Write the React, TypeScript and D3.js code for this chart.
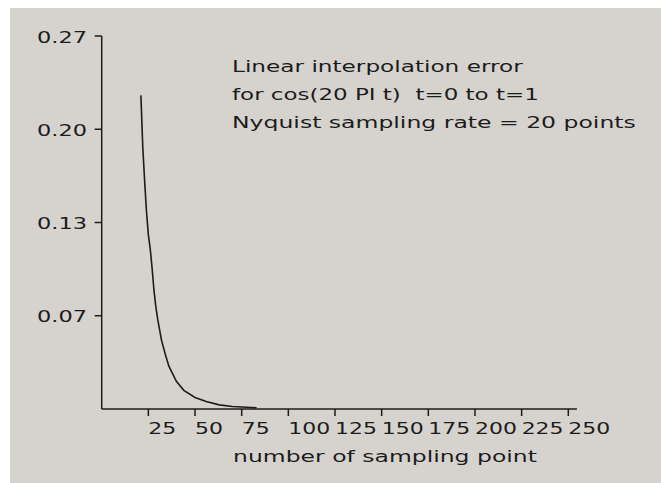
import { useLayoutEffect, useRef, useState } from "react";
import * as d3 from "d3";

// sample counts and the interpolation error
const samplePoints = [21, 22, 23, 24, 25, 26, 27, 28, 29, 30, 32, 34, 36, 40, 44, 50, 56, 63, 70, 83];
const errorValues = [0.227, 0.19, 0.165, 0.143, 0.126, 0.116, 0.102, 0.086, 0.074, 0.065, 0.05, 0.04, 0.031, 0.02, 0.0135, 0.0083, 0.0054, 0.003, 0.0018, 0.0009];

const yTickValues = [0.27, 0.2025, 0.135, 0.0675];
const yTickLabels = ["0.27", "0.20", "0.13", "0.07"];
const xTickValues = [25, 50, 75, 100, 125, 150, 175, 200, 225, 250];
const xTickLabels = ["25", "50", "75", "100", "125", "150", "175", "200", "225", "250"];

const noteLines = [
  "Linear interpolation error",
  "for cos(20 PI t)  t=0 to t=1",
  "Nyquist sampling rate = 20 points",
];
const xTitle = "number of sampling point";

const W = 661;
const H = 483;
const ink = "#1c1c1c";
const font = "'DejaVu Sans', sans-serif";

// text stretched horizontally to a target width (the original uses a wide bitmap font)
const WideText = ({ x, y, width, anchor = "start", children }) => {
  const ref = useRef<SVGTextElement>(null);
  const [sx, setSx] = useState(1.25);
  useLayoutEffect(() => {
    if (!ref.current) return;
    const natural = ref.current.getComputedTextLength();
    if (natural > 0) setSx(width / natural);
  }, [width, children]);
  return (
    <text
      ref={ref}
      transform={`translate(${x},${y}) scale(${sx},1)`}
      textAnchor={anchor}
      fontSize={16}
      fill={ink}
      style={{ whiteSpace: "pre" }}
    >
      {children}
    </text>
  );
};

const App = () => {
  const x = d3.scaleLinear().domain([0, 250]).range([101.7, 568.3]);
  const y = d3.scaleLinear().domain([0, 0.27]).range([409, 36]);

  const line = d3
    .line<number>()
    .x((d) => x(d))
    .y((d, i) => y(errorValues[i]));

  const x0 = x(0);
  const xEnd = x(254.6);
  const yBase = y(0);

  const noteWidths = [291, 307, 404];

  return (
    <svg
      width={W}
      height={H}
      style={{ position: "absolute", left: 0, top: 0 }}
      fontFamily={font}
    >
      <rect x={0} y={0} width={W} height={H} fill="#ffffff" />
      <rect x={10} y={8} width={W - 10} height={H - 8} fill="#d6d3ce" />

      {/* axes */}
      <line x1={x0} x2={x0} y1={y(0.27)} y2={yBase} stroke={ink} strokeWidth={1.5} />
      <line x1={x0} x2={xEnd} y1={yBase} y2={yBase} stroke={ink} strokeWidth={1.5} />

      {yTickValues.map((v, i) => (
        <g key={"y" + i}>
          <line x1={x0 - 7} x2={x0} y1={y(v)} y2={y(v)} stroke={ink} strokeWidth={1.5} />
          <WideText x={87} y={y(v) + 6.5} width={50} anchor="end">
            {yTickLabels[i]}
          </WideText>
        </g>
      ))}

      {xTickValues.map((v, i) => (
        <g key={"x" + i}>
          <line x1={x(v)} x2={x(v)} y1={yBase} y2={yBase + 7} stroke={ink} strokeWidth={1.5} />
          <WideText x={x(v)} y={434} width={xTickLabels[i].length === 2 ? 28 : 42}>
            {xTickLabels[i]}
          </WideText>
        </g>
      ))}

      <WideText x={233} y={461.7} width={304}>
        {xTitle}
      </WideText>

      {noteLines.map((t, i) => (
        <WideText key={"n" + i} x={232} y={71.5 + i * 28} width={noteWidths[i]}>
          {t}
        </WideText>
      ))}

      <path d={line(samplePoints) || ""} fill="none" stroke={ink} strokeWidth={1.6} />
    </svg>
  );
};

export default App;
